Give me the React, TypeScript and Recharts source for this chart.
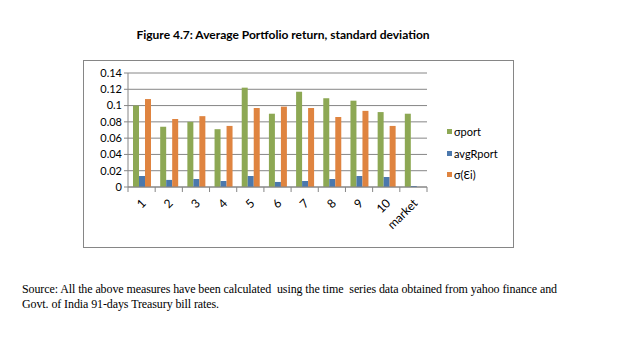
import React from "react";
import { BarChart, Bar, XAxis, YAxis, CartesianGrid } from "recharts";

const categories = ["1", "2", "3", "4", "5", "6", "7", "8", "9", "10", "market"];
const sigmaPort = [0.1, 0.074, 0.08, 0.071, 0.122, 0.09, 0.117, 0.109, 0.106, 0.092, 0.09];
const avgRPort = [0.0135, 0.0087, 0.0098, 0.0074, 0.0135, 0.0062, 0.0074, 0.0098, 0.0135, 0.0123, 0.0012];
const sigmaEi = [0.108, 0.0835, 0.087, 0.075, 0.097, 0.0987, 0.097, 0.086, 0.0935, 0.075, 0];
const yTicks = [0, 0.02, 0.04, 0.06, 0.08, 0.1, 0.12, 0.14];
const seriesNames = ["σport", "avgRport", "σ(Ɛi)"];

const colors = ["#8DA854", "#4B78AD", "#DF8440"];
const axisGrey = "#868686";
const font = "Lato, 'Open Sans', sans-serif";

const data = categories.map((c, i) => ({
  name: c,
  sp: sigmaPort[i],
  ar: avgRPort[i],
  se: sigmaEi[i],
}));

const PLOT_LEFT = 128;
const PLOT_RIGHT = 427;
const PLOT_TOP = 73;
const PLOT_BOTTOM = 187;
const BAND = (PLOT_RIGHT - PLOT_LEFT) / categories.length;

const XTick = (props: any) => {
  const { x, payload, index } = props;
  const axisY = PLOT_BOTTOM;
  const ax = x + 5;
  const ay = axisY + 17;
  const last = index === categories.length - 1;
  return (
    <g>
      <line x1={x - BAND / 2} y1={axisY} x2={x - BAND / 2} y2={axisY + 5} stroke={axisGrey} strokeWidth={1} />
      {last && (
        <line x1={x + BAND / 2} y1={axisY} x2={x + BAND / 2} y2={axisY + 5} stroke={axisGrey} strokeWidth={1} />
      )}
      <text
        x={ax}
        y={ay}
        textAnchor="end"
        fontSize={12}
        fontFamily={font}
        fill="#000"
        transform={`rotate(-45, ${ax}, ${ay})`}
      >
        {payload.value}
      </text>
    </g>
  );
};

export default function App() {
  const yAxisWidth = 40;
  return (
    <div style={{ position: "absolute", left: 0, top: 0, width: 621, height: 344, background: "#fff", fontFamily: font }}>
      <div
        style={{
          position: "absolute",
          left: 0,
          width: 566,
          top: 27,
          textAlign: "center",
          fontWeight: "bold",
          fontSize: 12,
          fontFamily: font,
          color: "#000",
        }}
      >
        Figure 4.7: Average Portfolio return, standard deviation
      </div>
      <div
        style={{
          position: "absolute",
          left: 83,
          top: 60,
          width: 429,
          height: 186,
          border: `1px solid ${axisGrey}`,
        }}
      />
      <div style={{ position: "absolute", left: 0, top: 0 }}>
        <BarChart
          width={621}
          height={344}
          data={data}
          margin={{ top: PLOT_TOP, left: PLOT_LEFT - yAxisWidth, right: 621 - PLOT_RIGHT, bottom: 344 - PLOT_BOTTOM - 60 }}
          barGap={0}
          barSize={6}
        >
          <CartesianGrid vertical={false} stroke={axisGrey} strokeWidth={1} />
          <XAxis
            dataKey="name"
            height={60}
            stroke={axisGrey}
            tickLine={false}
            tick={<XTick />}
            interval={0}
          />
          <YAxis
            width={yAxisWidth}
            domain={[0, 0.14]}
            ticks={yTicks}
            interval={0}
            stroke={axisGrey}
            tickSize={4}
            tick={{ fontSize: 11, fontFamily: font, fill: "#000" }}
            tickFormatter={(v: number) => String(v)}
          />
          <Bar dataKey="sp" fill={colors[0]} isAnimationActive={false} />
          <Bar dataKey="ar" fill={colors[1]} isAnimationActive={false} />
          <Bar dataKey="se" fill={colors[2]} isAnimationActive={false} />
        </BarChart>
      </div>
      {seriesNames.map((n, i) => (
        <div
          key={n}
          style={{
            position: "absolute",
            left: 447,
            top: 125 + i * 21.5,
            height: 13,
            display: "flex",
            alignItems: "center",
            fontSize: 11,
            fontFamily: font,
            color: "#000",
          }}
        >
          <span style={{ display: "inline-block", width: 5, height: 5, background: colors[i], marginRight: 2 }} />
          {n}
        </div>
      ))}
      <div
        style={{
          position: "absolute",
          left: 22,
          top: 282,
          fontFamily: "'Liberation Serif', 'Times New Roman', serif",
          fontSize: 12,
          lineHeight: "15px",
          color: "#000",
          whiteSpace: "nowrap",
          letterSpacing: -0.1,
        }}
      >
        <div>
          Source: All the above measures have been calculated&nbsp; using the time&nbsp; series data obtained from yahoo finance and
        </div>
        <div>Govt. of India 91-days Treasury bill rates.</div>
      </div>
    </div>
  );
}
